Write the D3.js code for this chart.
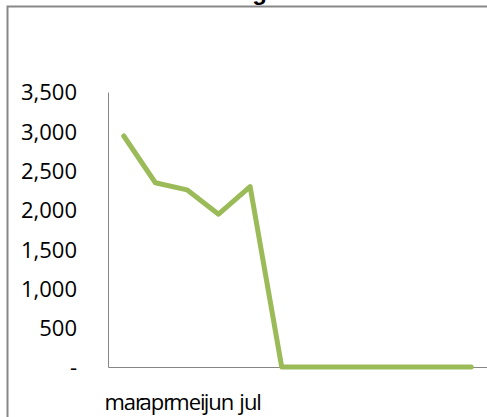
<!DOCTYPE html>
<html>
<head>
<meta charset="utf-8">
<script src="https://cdn.jsdelivr.net/npm/d3@7"></script>
<style>
  body { margin: 0; background: #fff; }
  svg { display: block; }
  .tick text { font-family: "Open Sans", "Liberation Sans", sans-serif; fill: #000; }
</style>
</head>
<body>
<div id="chart"></div>
<script>
// maanden en waarden
var months = ["mar", "apr", "mei", "jun", "jul", "", "", "", "", "", "", ""];
var values = [2940, 2345, 2255, 1945, 2295, 0, 0, 0, 0, 0, 0, 0];
var yTicks = [0, 500, 1000, 1500, 2000, 2500, 3000, 3500];
var title = "Ontwikkeling";

var W = 487, H = 417;
var plot = {left: 108, right: 487, top: 92, bottom: 367};

var svg = d3.select("#chart").append("svg")
  .attr("width", W)
  .attr("height", H);

// kader van de grafiek (loopt buiten beeld door)
svg.append("rect")
  .attr("x", 7.5).attr("y", 6.5)
  .attr("width", W + 20).attr("height", H + 20)
  .attr("fill", "#fff")
  .attr("stroke", "#888")
  .attr("stroke-width", 2);

// titel staat grotendeels boven het beeld, alleen de staart van de g is zichtbaar
svg.append("text")
  .attr("x", 267).attr("y", 0)
  .attr("text-anchor", "end")
  .attr("font-family", "Liberation Sans, Arial, sans-serif")
  .attr("font-weight", "bold")
  .attr("font-size", 24)
  .text(title);

var x = d3.scaleBand()
  .domain(d3.range(months.length))
  .range([plot.left, plot.right]);

var y = d3.scaleLinear()
  .domain([0, 3500])
  .range([plot.bottom, plot.top]);

var yAxis = d3.axisLeft(y)
  .tickValues(yTicks)
  .tickSize(0)
  .tickPadding(31)
  .tickFormat(function(d) { return d === 0 ? "-" : d3.format(",")(d); });

var gy = svg.append("g")
  .attr("transform", "translate(" + plot.left + ",0)")
  .call(yAxis);
gy.selectAll("text").attr("font-size", 22).attr("dy", "0.36em");
gy.select(".domain").attr("stroke", "#868686").attr("stroke-width", 1);

var xAxis = d3.axisBottom(x)
  .tickSize(0)
  .tickPadding(27)
  .tickFormat(function(i) { return months[i]; });

var gx = svg.append("g")
  .attr("transform", "translate(0," + plot.bottom + ")")
  .call(xAxis);
gx.selectAll("text").attr("font-size", 22).attr("letter-spacing", -1);
gx.select(".domain").attr("stroke", "#868686").attr("stroke-width", 1);

var line = d3.line()
  .x(function(d, i) { return x(i) + x.bandwidth() / 2; })
  .y(function(d) { return y(d); });

svg.append("path")
  .datum(values)
  .attr("d", line)
  .attr("fill", "none")
  .attr("stroke", "#9BBB59")
  .attr("stroke-width", 5)
  .attr("stroke-linejoin", "round")
  .attr("stroke-linecap", "round");
</script>
</body>
</html>
